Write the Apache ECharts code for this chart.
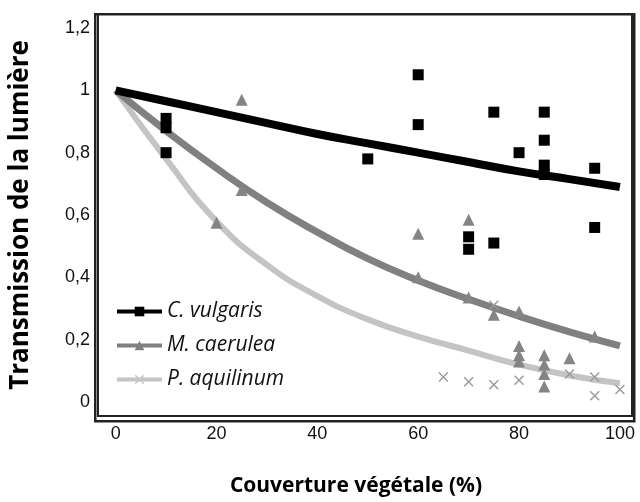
<!DOCTYPE html>
<html>
<head>
<meta charset="utf-8">
<script src="https://cdn.jsdelivr.net/npm/echarts@6/dist/echarts.min.js"></script>
<style>
  html, body { margin: 0; padding: 0; background: #fff; }
  #main { width: 640px; height: 502px; }
</style>
</head>
<body>
<div id="main"></div>
<script>
const cvX = [10, 10, 10, 50, 60, 60, 70, 70, 75, 75, 80, 85, 85, 85, 85, 95, 95];
const cvY = [0.91, 0.88, 0.80, 0.78, 1.05, 0.89, 0.53, 0.49, 0.93, 0.51, 0.80, 0.93, 0.84, 0.76, 0.73, 0.75, 0.56];

const mcX = [25, 20, 25, 60, 60, 70, 70, 75, 80, 80, 80, 80, 85, 85, 85, 85, 90, 95];
const mcY = [0.97, 0.575, 0.68, 0.54, 0.40, 0.585, 0.335, 0.28, 0.29, 0.18, 0.15, 0.13, 0.15, 0.12, 0.09, 0.05, 0.14, 0.21];

const paX = [65, 70, 75, 75, 80, 90, 95, 95, 100];
const paY = [0.08, 0.065, 0.31, 0.055, 0.07, 0.09, 0.08, 0.02, 0.04];

// trend curves, read at every 10 %
const fitX = [0, 10, 20, 30, 40, 50, 60, 70, 80, 90, 100];
const cvFit = [1, 0.965, 0.93, 0.895, 0.86, 0.83, 0.80, 0.77, 0.74, 0.715, 0.69];
const mcFit = [1, 0.87, 0.75, 0.64, 0.545, 0.46, 0.39, 0.33, 0.275, 0.225, 0.18];
const paFit = [1, 0.78, 0.58, 0.44, 0.34, 0.265, 0.21, 0.165, 0.12, 0.085, 0.06];

const xTicks = [0, 20, 40, 60, 80, 100];
const yTicks = [0, 0.2, 0.4, 0.6, 0.8, 1, 1.2];

const names = ["C. vulgaris", "M. caerulea", "P. aquilinum"];

const zip = (a, b) => a.map((v, i) => [v, b[i]]);
const crossPath = "path://M0,1L1,0L5,4L9,0L10,1L6,5L10,9L9,10L5,6L1,10L0,9L4,5Z";

const tickFont = {
  fontFamily: "Liberation Sans Narrow, Liberation Sans",
  fontSize: 18,
  color: "#111",
};

// cadre du graphique
const G = { left: 95, right: 8, top: 14, bottom: 83 };
const W = 640 - G.left - G.right;
const H = 502 - G.top - G.bottom;

let myChart = echarts.init(document.getElementById("main"));
myChart.setOption({
  backgroundColor: "#fff",
  animation: false,
  grid: Object.assign({ show: true, borderColor: "#222", borderWidth: 2 }, G),
  graphic: {
    elements: [
      {
        type: "group",
        left: G.left - 1,
        top: G.top - 1,
        z: 100,
        children: [
          {
            type: "rect",
            shape: { x: 0, y: 0, width: W + 2, height: H + 2 },
            style: { fill: "rgba(0,0,0,0)", stroke: "#222", lineWidth: 2.5 },
          },
        ],
      },
    ],
  },
  legend: {
    orient: "vertical",
    left: 115,
    top: 301,
    padding: 0,
    itemWidth: 45,
    itemHeight: 12,
    itemGap: 13,
    data: names,
    lineStyle: { width: 4 },
    textStyle: {
      fontFamily: "Open Sans",
      fontStyle: "italic",
      fontSize: 21,
      color: "#111",
    },
  },
  xAxis: {
    type: "value",
    min: -3.5,
    max: 102.4,
    name: "Couverture végétale (%)",
    nameLocation: "middle",
    nameGap: 60,
    nameTextStyle: {
      fontFamily: "Open Sans",
      fontWeight: "bold",
      fontSize: 21,
      color: "#000",
      padding: [0, 18, 0, 0],
    },
    axisLine: { show: true, onZero: false, lineStyle: { color: "#222", width: 2 } },
    axisTick: { show: false },
    splitLine: { show: false },
    axisLabel: Object.assign({ customValues: xTicks, margin: 9 }, tickFont),
  },
  yAxis: {
    type: "value",
    min: -0.045,
    max: 1.245,
    name: "Transmission de la lumière",
    nameLocation: "middle",
    nameGap: 64,
    nameTextStyle: {
      fontFamily: "Open Sans",
      fontWeight: "bold",
      fontSize: 26,
      color: "#000",
    },
    axisLine: { show: true, onZero: false, lineStyle: { color: "#222", width: 2 } },
    axisTick: { show: false },
    splitLine: { show: false },
    axisLabel: Object.assign(
      {
        customValues: yTicks,
        margin: 8,
        formatter: (v) => String(Math.round(v * 10) / 10).replace(".", ","),
      },
      tickFont
    ),
  },
  series: [
    //courbes de tendance
    {
      name: names[2],
      type: "line",
      data: zip(fitX, paFit),
      smooth: true,
      symbol: crossPath,
      symbolSize: 9,
      showSymbol: false,
      lineStyle: { color: "#c4c4c4", width: 6 },
      itemStyle: { color: "#c4c4c4" },
      z: 2,
    },
    {
      name: names[1],
      type: "line",
      data: zip(fitX, mcFit),
      smooth: true,
      symbol: "triangle",
      symbolSize: 9,
      showSymbol: false,
      lineStyle: { color: "#808080", width: 7 },
      itemStyle: { color: "#808080" },
      z: 3,
    },
    {
      name: names[0],
      type: "line",
      data: zip(fitX, cvFit),
      smooth: true,
      symbol: "rect",
      symbolSize: 11,
      showSymbol: false,
      lineStyle: { color: "#000", width: 8 },
      itemStyle: { color: "#000" },
      z: 4,
    },
    //points
    {
      name: names[0],
      type: "scatter",
      data: zip(cvX, cvY),
      symbol: "rect",
      symbolSize: 11,
      itemStyle: { color: "#000", opacity: 1 },
      z: 5,
    },
    {
      name: names[1],
      type: "scatter",
      data: zip(mcX, mcY),
      symbol: "triangle",
      symbolSize: 12,
      itemStyle: { color: "#858585", opacity: 1 },
      z: 5,
    },
    {
      name: names[2],
      type: "scatter",
      data: zip(paX, paY),
      symbol: crossPath,
      symbolSize: 10,
      itemStyle: { color: "#9a9a9a", opacity: 1 },
      z: 5,
    },
  ],
});
</script>
</body>
</html>
